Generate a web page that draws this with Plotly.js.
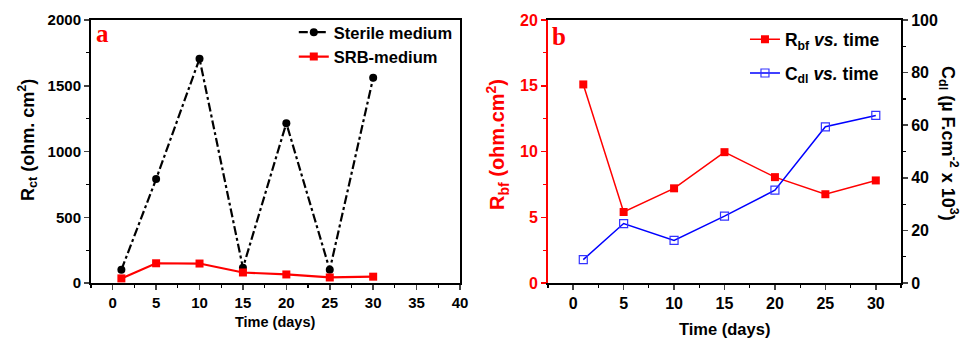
<!DOCTYPE html>
<html><head><meta charset="utf-8">
<script src="https://cdn.plot.ly/plotly-3.0.1.min.js"></script>
<style>body{margin:0;padding:0;background:#fff}#chart{width:968px;height:339px}</style>
</head><body><div id="chart"></div>
<script>
// Panel a data
const daysA = [1, 5, 10, 15, 20, 25, 30];
const sterileRct = [100, 790, 1705, 115, 1215, 100, 1560];
const srbRct = [35, 150, 148, 80, 65, 42, 48];
// Panel b data
const daysB = [1, 5, 10, 15, 20, 25, 30];
const rbf = [15.1, 5.4, 7.2, 9.95, 8.05, 6.75, 7.8];
const cdl = [8.9, 22.6, 16.2, 25.4, 35.3, 59.4, 63.7];
const ticksA = [0, 5, 10, 15, 20, 25, 30, 35, 40];
const ticksB = [0, 5, 10, 15, 20, 25, 30];

const FONT = 'Liberation Sans, Arial, sans-serif';
const tf = (c, s) => ({family: FONT, size: s || 14, color: c || '#000', weight: 700});

const traces = [
  {x: daysA, y: sterileRct, name: 'Sterile medium', type: 'scatter', mode: 'lines+markers',
   line: {color: '#000', width: 2.2, dash: 'dashdot'}, marker: {symbol: 'circle', size: 8, color: '#000'},
   xaxis: 'x', yaxis: 'y', legend: 'legend', legendgroup: 'a1'},
  {x: daysA, y: srbRct, name: 'SRB-medium', type: 'scatter', mode: 'lines+markers',
   line: {color: '#ff0000', width: 2.2}, marker: {symbol: 'square', size: 8, color: '#ff0000'},
   xaxis: 'x', yaxis: 'y', legend: 'legend', legendgroup: 'a2'},
  {x: daysB, y: rbf, name: 'R<sub>bf</sub> <i>vs.</i> time', type: 'scatter', mode: 'lines+markers',
   line: {color: '#ff0000', width: 1.5}, marker: {symbol: 'square', size: 8, color: '#ff0000'},
   xaxis: 'x2', yaxis: 'y2', legend: 'legend2', legendgroup: 'b1'},
  {x: daysB, y: cdl, name: 'C<sub>dl</sub> <i>vs.</i> time', type: 'scatter', mode: 'lines+markers',
   line: {color: '#0000ff', width: 1.5}, marker: {symbol: 'square-open', size: 8, color: '#3333ff', line: {width: 1.2}},
   xaxis: 'x2', yaxis: 'y3', legend: 'legend2', legendgroup: 'b2'}
];

const yb = 0.1652, yt = 0.941;
const axBase = {showgrid: false, zeroline: false, ticks: 'outside', ticklen: 5, tickwidth: 1.5,
  showline: true, linewidth: 2, linecolor: '#000', mirror: true, tickfont: tf('#000', 15)};

const layout = {
  width: 968, height: 339, margin: {l: 0, r: 0, t: 0, b: 0},
  paper_bgcolor: '#fff', plot_bgcolor: 'rgba(0,0,0,0)',
  showlegend: true,
  xaxis: Object.assign({}, axBase, {domain: [0.0940, 0.4752], anchor: 'y', range: [-2.5, 40],
    tickvals: ticksA, minor: {dtick: 2.5, tick0: 0, ticks: 'outside', ticklen: 3, tickwidth: 1.2, tickcolor: '#000'}}),
  yaxis: Object.assign({}, axBase, {domain: [yb, yt], anchor: 'x', range: [0, 2000], dtick: 500,
    minor: {dtick: 250, ticks: 'outside', ticklen: 3, tickwidth: 1.2, tickcolor: '#000'}}),
  xaxis2: Object.assign({}, axBase, {domain: [0.5661, 0.9308], anchor: 'y2', range: [-2.5, 32.5],
    tickvals: ticksB, tickfont: tf('#000', 16),
    minor: {dtick: 2.5, tick0: 0, ticks: 'outside', ticklen: 3, tickwidth: 1.2, tickcolor: '#000'}}),
  yaxis2: Object.assign({}, axBase, {domain: [yb, yt], anchor: 'x2', range: [0, 20], dtick: 5,
    linecolor: '#ff0000', tickcolor: '#ff0000', mirror: false, tickfont: tf('#ff0000', 16),
    minor: {dtick: 2.5, ticks: 'outside', ticklen: 3, tickwidth: 1.2, tickcolor: '#ff0000'}}),
  yaxis3: Object.assign({}, axBase, {domain: [yb, yt], anchor: 'x2', overlaying: 'y2', side: 'right',
    range: [0, 100], dtick: 20, mirror: false, tickfont: tf('#000', 16),
    minor: {dtick: 10, ticks: 'outside', ticklen: 3, tickwidth: 1.2, tickcolor: '#000'}}),
  legend: {x: 0.3035, y: 0.956, xanchor: 'left', yanchor: 'top', bgcolor: 'rgba(0,0,0,0)',
    font: tf('#000', 16.5), tracegroupgap: 0, itemwidth: 30},
  legend2: {x: 0.7696, y: 0.937, xanchor: 'left', yanchor: 'top', bgcolor: 'rgba(0,0,0,0)',
    font: tf('#000', 17.5), tracegroupgap: 8, itemwidth: 30},
  annotations: [
    {text: 'a', x: 102, y: 34, xref: 'paper', yref: 'paper', showarrow: false},
    {text: 'b', x: 559, y: 37, xref: 'paper', yref: 'paper', showarrow: false},
    {text: 'Time (days)', x: 275, y: 322, showarrow: false, font: tf('#000', 14.5)},
    {text: 'Time (days)', x: 724, y: 329, showarrow: false, font: tf('#000', 16.5)},
    {text: 'R<sub>ct</sub> (ohm. cm<sup>2</sup>)', x: 27, y: 140, textangle: -90, showarrow: false, font: tf('#000', 18)},
    {text: 'R<sub>bf</sub> (ohm.cm<sup>2</sup>)', x: 498, y: 145, textangle: -90, showarrow: false, font: tf('#ff0000', 20)},
    {text: 'C<sub>dl</sub> (\u00b5 F.cm<sup>-2</sup> x 10<sup>3</sup>)', x: 949, y: 143, textangle: 90, showarrow: false, font: tf('#000', 18)}
  ]
};
layout.annotations = layout.annotations.map((a, i) => {
  const o = Object.assign({xref: 'paper', yref: 'paper', xanchor: 'center', yanchor: 'middle'}, a);
  o.x = a.x / 968; o.y = 1 - a.y / 339;
  if (i < 2) o.font = {family: 'Liberation Serif, Times New Roman, serif', size: 25, color: '#ff0000', weight: 700};
  return o;
});

Plotly.newPlot('chart', traces, layout, {displayModeBar: false, staticPlot: true});
</script></body></html>
